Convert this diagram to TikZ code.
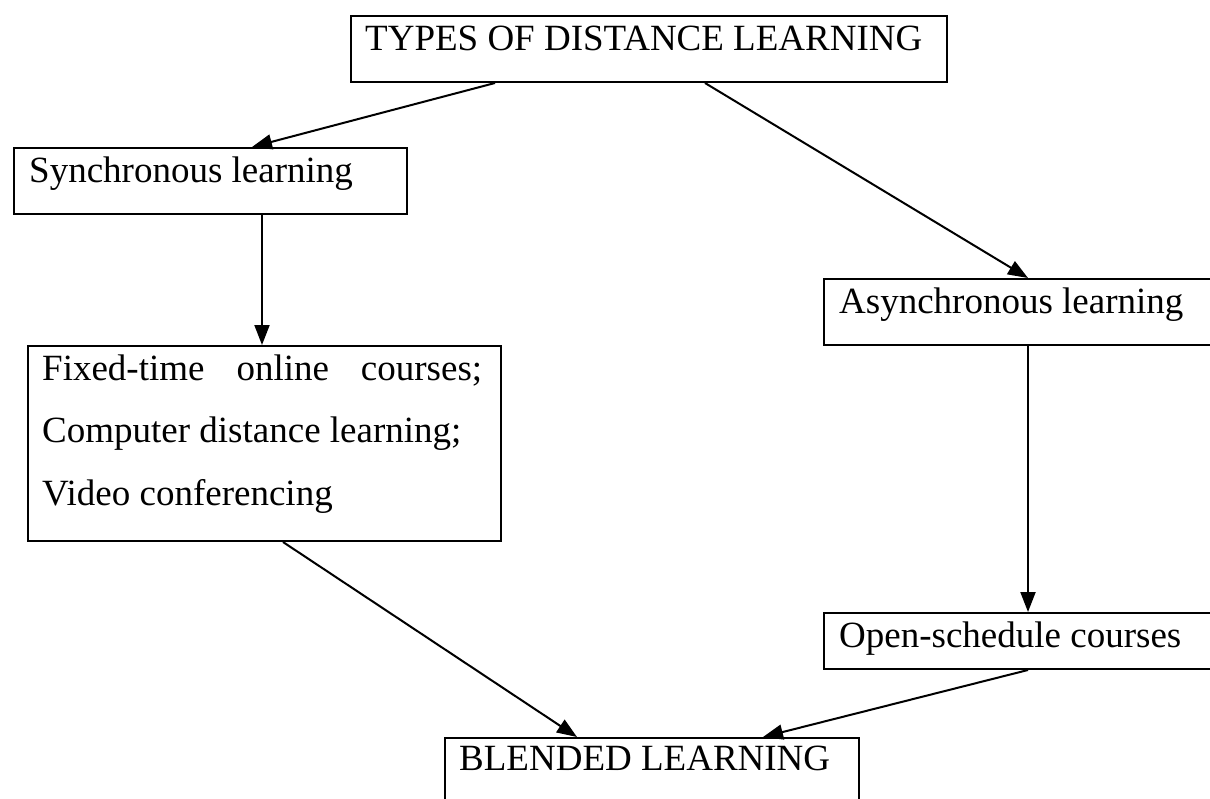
\documentclass[tikz,border=0pt]{standalone}
\usepackage{fontspec}
\setmainfont{Liberation Serif}
\usetikzlibrary{arrows.meta}
\begin{document}
\begin{tikzpicture}[x=1pt,y=-1pt,
  box/.style={draw, line width=2pt, anchor=north west, inner sep=0pt},
  lbl/.style={anchor=base west, inner sep=0pt, font=\fontsize{37}{44}\selectfont},
  conn/.style={line width=2pt, -{Triangle[length=20pt,width=15pt]}}]
\useasboundingbox (0,0) rectangle (1210,798);
\node[box, minimum width=596pt, minimum height=66pt] (types) at (350,15) {};
\node[lbl] (typest) at (365,50) {TYPES OF DISTANCE LEARNING};
\node[box, minimum width=393pt, minimum height=66pt] (sync) at (13,147) {};
\node[lbl] (synct) at (29,182) {Synchronous learning};
\node[box, minimum width=473pt, minimum height=195pt] (fixed) at (27,345) {};
\node[lbl] (fixed1) at (42,380) {\makebox[440pt][s]{Fixed-time\hfill online\hfill courses;}};
\node[lbl] (fixed2) at (42,442) {Computer distance learning;};
\node[lbl] (fixed3) at (42,505) {Video conferencing};
\node[box, minimum width=420pt, minimum height=66pt] (async) at (823,278) {};
\node[lbl] (asynct) at (839,313) {Asynchronous learning};
\node[box, minimum width=420pt, minimum height=56pt] (open) at (823,612) {};
\node[lbl] (opent) at (839,647) {Open-schedule courses};
\node[box, minimum width=414pt, minimum height=100pt] (blend) at (444,737) {};
\node[lbl] (blendt) at (459,770) {BLENDED LEARNING};
\draw[conn] ([xshift=145pt]types.south west) -- ([xshift=239pt]sync.north west);
\draw[conn] ([xshift=355pt]types.south west) -- ([xshift=205pt]async.north west);
\draw[conn] ([xshift=249pt]sync.south west) -- ([xshift=235pt]fixed.north west);
\draw[conn] ([xshift=205pt]async.south west) -- ([xshift=205pt]open.north west);
\draw[conn] ([xshift=256pt]fixed.south west) -- ([xshift=133pt]blend.north west);
\draw[conn] ([xshift=205pt]open.south west) -- ([xshift=319pt]blend.north west);
\end{tikzpicture}
\end{document}
